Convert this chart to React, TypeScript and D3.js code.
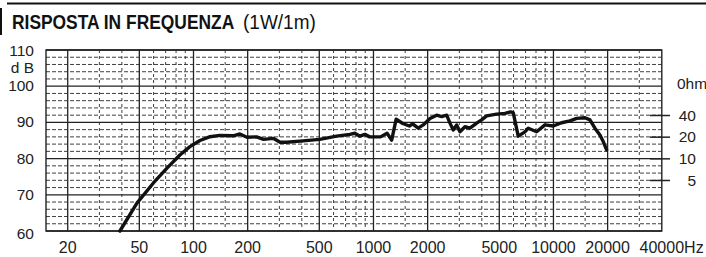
import React from 'react';
import * as d3 from 'd3';

// frequency response (Hz, dB)
const freqs = [39, 48.5, 59.7, 71, 84, 95.5, 108.6, 123.6, 140, 166, 181, 198, 224, 245, 277, 303, 329, 406, 503, 624, 739, 788, 840, 895, 953, 1093, 1190, 1262, 1337, 1454, 1583, 1650, 1772, 1890, 2060, 2244, 2393, 2551, 2661, 2776, 2898, 3024, 3224, 3436, 3744, 3990, 4254, 4834, 5377, 5782, 5977, 6372, 6942, 7244, 8066, 8970, 9972, 11104, 12350, 13454, 14956, 15950, 17000, 18126, 18906, 19744];
const levels = [60, 67.7, 73.2, 77.3, 81, 83.3, 85, 86.05, 86.4, 86.3, 86.8, 85.9, 86, 85.3, 85.6, 84.5, 84.5, 84.9, 85.3, 86.2, 86.7, 87, 86.2, 86.7, 86, 86, 87, 85.1, 90.9, 89.7, 89, 89.6, 88.4, 89.3, 91.1, 92, 91.6, 92, 89.8, 87.9, 89.3, 87.4, 88.8, 88.4, 89.8, 90.7, 91.8, 92.3, 92.5, 92.9, 92.7, 86.2, 87.4, 88.4, 87.4, 89.3, 89, 89.9, 90.4, 91.1, 91.3, 90.7, 88.4, 86.5, 84.7, 82.4];

const majorFreqs = [20, 50, 100, 200, 500, 1000, 2000, 5000, 10000, 20000];
const minorFreqs = [30, 40, 60, 70, 80, 90, 150, 300, 400, 600, 700, 800, 900, 1500, 3000, 4000, 6000, 7000, 8000, 9000, 15000, 30000];
const dbTicks = [60, 70, 80, 90, 100, 110];
const dbMinor = [62, 64, 66, 68, 72, 74, 76, 78, 82, 84, 86, 88, 92, 94, 96, 98, 102, 104, 106, 108];
const ohmTicks = [5, 10, 20, 40];

const W = 706;
const H = 257;
const left = 46, right = 661.8, top = 50, bottom = 231;

export default function App() {
  const x = d3.scaleLog().domain([15.15, 40000]).range([left, right]);
  const y = d3.scaleLinear().domain([60, 110]).range([bottom, top]);
  const yOhm = d3.scaleLog().domain([5, 40]).range([180.5, 115.5]);

  const pts = freqs.map((f, i) => [f, levels[i]] as [number, number]);
  const line = d3.line<[number, number]>().x(d => x(d[0])).y(d => y(d[1]));

  const labelFont = "'Liberation Sans', Arial, sans-serif";

  return (
    <svg width={W} height={H} style={{ position: 'absolute', left: 0, top: 0, background: '#fff' }}>
      {/* title bar */}
      <line x1={7} x2={W} y1={3.5} y2={3.5} stroke="#111" strokeWidth={2} />
      <line x1={1} x2={1} y1={8} y2={35} stroke="#111" strokeWidth={2} />
      <g transform="translate(12,29) scale(0.87,1)">
        <text x={0} y={0} fontFamily={labelFont} fontWeight="bold" fontSize={20} fill="#111">RISPOSTA IN FREQUENZA</text>
      </g>
      <g transform="translate(243,29) scale(0.95,1)">
        <text x={0} y={0} fontFamily={labelFont} fontSize={20} fill="#111">(1W/1m)</text>
      </g>

      {/* minor grid */}
      {dbMinor.map(d => (
        <line key={'hm' + d} x1={left} x2={right} y1={y(d)} y2={y(d)} stroke="#2a2a2a" strokeWidth={0.9} strokeDasharray="4,2" />
      ))}
      {minorFreqs.map(f => (
        <line key={'vm' + f} x1={x(f)} x2={x(f)} y1={top} y2={bottom} stroke="#2a2a2a" strokeWidth={0.9} strokeDasharray="3,3" />
      ))}
      {/* major grid */}
      {dbTicks.map(d => (
        <line key={'h' + d} x1={left} x2={right} y1={y(d)} y2={y(d)} stroke="#222" strokeWidth={1.3} />
      ))}
      {majorFreqs.map(f => (
        <line key={'v' + f} x1={x(f)} x2={x(f)} y1={top} y2={bottom} stroke="#222" strokeWidth={1.3} />
      ))}
      <rect x={left} y={top} width={right - left} height={bottom - top} fill="none" stroke="#222" strokeWidth={1.4} />

      {/* response curve */}
      <path d={line(pts) || ''} fill="none" stroke="#111" strokeWidth={3.4} strokeLinejoin="round" strokeLinecap="round" />

      {/* dB labels */}
      {dbTicks.map(d => (
        <text key={'yl' + d} x={34} y={y(d) + (d === 110 ? 2 : d === 60 ? 4 : 1)} textAnchor="end" dominantBaseline="middle"
          fontFamily={labelFont} fontSize={15.5} fill="#222">{d}</text>
      ))}
      <text x={34} y={69} textAnchor="end" dominantBaseline="middle" fontFamily={labelFont} fontSize={15.5} fill="#222">d B</text>

      {/* frequency labels */}
      {majorFreqs.map(f => (
        <text key={'xl' + f} x={x(f)} y={249} textAnchor="middle" dominantBaseline="middle"
          fontFamily={labelFont} fontSize={16} fill="#222">{f}</text>
      ))}
      <text x={x(40000)} y={249} textAnchor="middle" dominantBaseline="middle" fontFamily={labelFont} fontSize={16} fill="#222">40000</text>
      <text x={x(40000) + 22.3} y={249} dominantBaseline="middle" fontFamily={labelFont} fontSize={16} fill="#222">Hz</text>

      {/* impedance axis */}
      {ohmTicks.map(o => (
        <g key={'o' + o}>
          <line x1={650} x2={670} y1={yOhm(o)} y2={yOhm(o)} stroke="#222" strokeWidth={1.5} />
          <text x={696} y={yOhm(o) + 1} textAnchor="end" dominantBaseline="middle" fontFamily={labelFont} fontSize={15.5} fill="#222">{o}</text>
        </g>
      ))}
      <text x={677} y={85} dominantBaseline="middle" fontFamily={labelFont} fontSize={15.5} fill="#222">0hm</text>
    </svg>
  );
}
